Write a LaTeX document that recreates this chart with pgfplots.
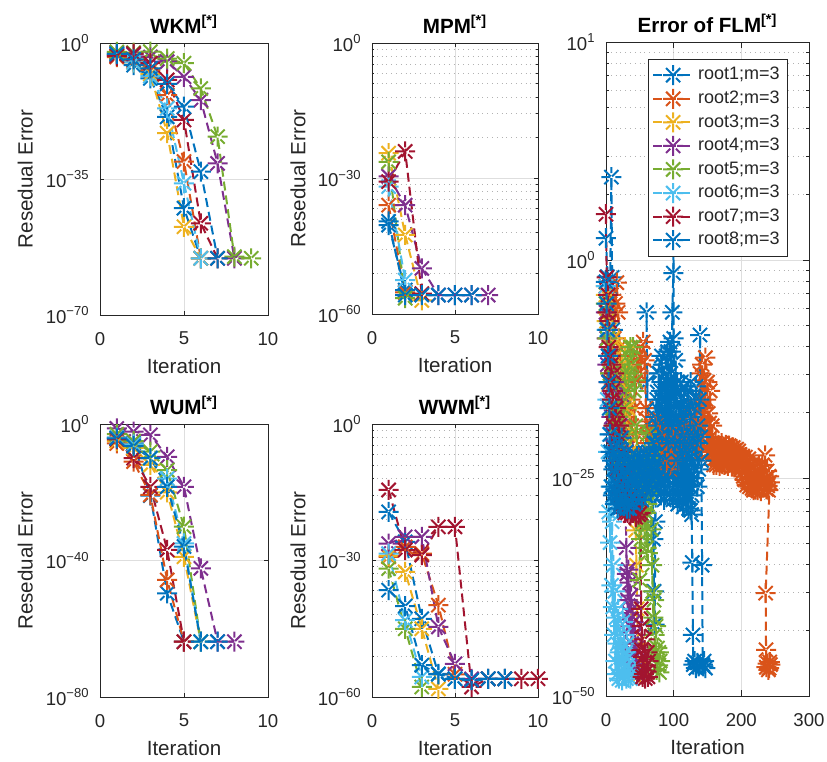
\documentclass[border=0pt]{standalone}
\usepackage{fontspec}
\setmainfont{Liberation Sans}
\usepackage{pgfplots}
\pgfplotsset{compat=1.18}

\definecolor{c1}{HTML}{0072BD}
\definecolor{c2}{HTML}{D95319}
\definecolor{c3}{HTML}{EDB120}
\definecolor{c4}{HTML}{7E2F8E}
\definecolor{c5}{HTML}{77AC30}
\definecolor{c6}{HTML}{4DBEEE}
\definecolor{c7}{HTML}{A2142F}
\definecolor{axc}{HTML}{262626}

% MATLAB-like 8-arm asterisk
\pgfdeclareplotmark{mstar}{%
  \pgfpathmoveto{\pgfqpoint{-\pgfplotmarksize}{0pt}}%
  \pgfpathlineto{\pgfqpoint{\pgfplotmarksize}{0pt}}%
  \pgfpathmoveto{\pgfqpoint{0pt}{-\pgfplotmarksize}}%
  \pgfpathlineto{\pgfqpoint{0pt}{\pgfplotmarksize}}%
  \pgfpathmoveto{\pgfqpointpolar{45}{\pgfplotmarksize}}%
  \pgfpathlineto{\pgfqpointpolar{225}{\pgfplotmarksize}}%
  \pgfpathmoveto{\pgfqpointpolar{135}{\pgfplotmarksize}}%
  \pgfpathlineto{\pgfqpointpolar{315}{\pgfplotmarksize}}%
  \pgfusepathqstroke}

\pgfplotscreateplotcyclelist{mlist}{{c1},{c2},{c3},{c4},{c5},{c6},{c7},{c1}}

\pgfplotsset{
  mstyle/.style={
    scale only axis, clip=false,
    axis line style={draw=axc, line width=0.4pt},
    tick style={draw=axc, line width=0.4pt},
    tick align=inside,
    major tick length=2pt, minor tick length=1.2pt,
    ticklabel style={font=\fontsize{9.3}{11}\selectfont, text=axc},
    xticklabel style={yshift=-5pt},
    yticklabel style={xshift=-1.7pt},
    xlabel={Iteration},
    xlabel style={font=\fontsize{10.3}{12}\selectfont, text=axc,
      at={(axis description cs:0.5,0)}, anchor=center, yshift=-25.5pt},
    ylabel style={font=\fontsize{10.3}{12}\selectfont, text=axc,
      at={(axis description cs:-0.445,0.5)}, anchor=center},
    title style={font=\bfseries\fontsize{10.3}{12}\selectfont,
      at={(axis description cs:0.5,1)}, anchor=base, yshift=-1pt},
    grid=major,
    major grid style={draw=black!13, line width=0.4pt},
    minor grid style={draw=black!30, line width=0.4pt, dotted},
    xmin=0, xmax=10, xtick={0,5,10}, xticklabels={0,5,10},
    cycle list name=mlist,
    every axis plot/.append style={line width=1pt,
      dash pattern=on 4.5pt off 2.5pt, mark=mstar, mark size=5pt},
    every mark/.append style={solid, line width=1.3pt},
  },
}

\begin{document}
\begin{tikzpicture}
\useasboundingbox (0,0) rectangle (413.5pt,-381pt);

% ---------------- WKM ----------------
\begin{axis}[mstyle, at={(50pt,-157.5pt)}, anchor=south west,
  width=84pt, height=136pt,
  title={WKM\textsuperscript{[*]}}, ylabel={Resedual Error},
  ymin=-70, ymax=0, ytick={-70,-35,0},
  yticklabels={10\textsuperscript{−70},10\textsuperscript{−35},10\textsuperscript{0}}]
\addplot coordinates {(1,-3)(2,-5.7)(3,-9.1)(4,-19)(5,-42.5)(6,-55.4)};
\addplot coordinates {(1,-3.6)(2,-4.5)(3,-7)(4,-13.4)(5,-30.5)(6,-55.4)};
\addplot coordinates {(1,-3.2)(2,-5)(3,-8)(4,-23.2)(5,-47.3)(6,-55.4)};
\addplot coordinates {(1,-2.5)(2,-3)(3,-3.6)(4,-4.8)(5,-8.7)(6,-14.7)(7,-31)(8,-55.4)};
\addplot coordinates {(1,-2.3)(2,-2.5)(3,-2.2)(4,-4)(5,-5.2)(6,-11.7)(7,-24.1)(8,-55)(9,-55.4)};
\addplot coordinates {(1,-3)(2,-5)(3,-8.5)(4,-16.8)(5,-36.1)(6,-55.4)};
\addplot coordinates {(1,-3.3)(2,-2.7)(3,-5.2)(4,-9.5)(5,-19.8)(6,-46.4)(7,-55.4)};
\addplot coordinates {(1,-2.8)(2,-4.2)(3,-6.5)(4,-10.5)(5,-16.4)(6,-33.1)(7,-55.4)};
\end{axis}

% ---------------- MPM ----------------
\begin{axis}[mstyle, at={(186pt,-157pt)}, anchor=south west,
  width=83pt, height=135.5pt,
  title={MPM\textsuperscript{[*]}}, ylabel={Resedual Error},
  ymin=-60, ymax=0, ytick={-60,-30,0},
  yticklabels={10\textsuperscript{−60},10\textsuperscript{−30},10\textsuperscript{0}},
  minor ytick={-50.97,-45.69,-41.94,-39.03,-36.66,-34.65,-32.91,-31.37,
               -20.97,-15.69,-11.94,-9.03,-6.66,-4.65,-2.91,-1.37},
  grid=both]
\addplot coordinates {(1,-40.3)(2,-54.7)};
\addplot coordinates {(1,-35.9)(2,-55.2)};
\addplot coordinates {(1,-24.4)(2,-42.5)(3,-57)};
\addplot coordinates {(1,-29.5)(2,-35.9)(3,-49.9)(4,-55.8)(5,-55.8)(6,-55.8)(7,-55.8)};
\addplot coordinates {(1,-26.3)(2,-56.5)};
\addplot coordinates {(1,-31.8)(2,-52.5)};
\addplot coordinates {(1,-30.7)(2,-24)(3,-55.5)};
\addplot coordinates {(1,-39.5)(2,-55.8)(3,-55.8)(4,-55.8)(5,-55.8)(6,-55.8)};
\end{axis}

% ---------------- WUM ----------------
\begin{axis}[mstyle, at={(50pt,-348.5pt)}, anchor=south west,
  width=84pt, height=136.5pt,
  title={WUM\textsuperscript{[*]}}, ylabel={Resedual Error},
  ymin=-80, ymax=0, ytick={-80,-40,0},
  yticklabels={10\textsuperscript{−80},10\textsuperscript{−40},10\textsuperscript{0}}]
\addplot coordinates {(1,-4)(2,-5.7)(3,-21)(4,-49.6)(5,-63.8)};
\addplot coordinates {(1,-5.7)(2,-11)(3,-20.8)(4,-45.7)(5,-63.8)};
\addplot coordinates {(1,-5)(2,-7)(3,-12)(4,-20)(5,-38.9)(6,-63.8)};
\addplot coordinates {(1,-1.3)(2,-2.2)(3,-3.2)(4,-9.6)(5,-18.4)(6,-42.3)(7,-63.8)(8,-63.8)};
\addplot coordinates {(1,-3)(2,-5)(3,-8.1)(4,-13.5)(5,-30.1)(6,-63.8)};
\addplot coordinates {(1,-4)(2,-6)(3,-10)(4,-16)(5,-35)(6,-63.8)};
\addplot coordinates {(1,-4.5)(2,-10)(3,-18.4)(4,-36.9)(5,-63.8)};
\addplot coordinates {(1,-4.2)(2,-6.5)(3,-10)(4,-18.4)(5,-35.9)(6,-63.8)(7,-63.8)};
\end{axis}

% ---------------- WWM ----------------
\begin{axis}[mstyle, at={(186pt,-348.5pt)}, anchor=south west,
  width=83pt, height=136.5pt,
  title={WWM\textsuperscript{[*]}}, ylabel={Resedual Error},
  ymin=-60, ymax=0, ytick={-60,-30,0},
  yticklabels={10\textsuperscript{−60},10\textsuperscript{−30},10\textsuperscript{0}},
  minor ytick={-50.97,-45.69,-41.94,-39.03,-36.66,-34.65,-32.91,-31.37,
               -20.97,-15.69,-11.94,-9.03,-6.66,-4.65,-2.91,-1.37},
  grid=both]
\addplot coordinates {(1,-19.3)(2,-25.9)(3,-42.8)(4,-54.9)(5,-56)(6,-56.3)(7,-56)(8,-56)};
\addplot coordinates {(1,-29.2)(2,-27)(3,-28.5)(4,-39.8)(5,-55)};
\addplot coordinates {(1,-29)(2,-32.5)(3,-45)(4,-58.2)};
\addplot coordinates {(1,-26.3)(2,-24.8)(3,-24.8)(4,-44.6)(5,-52.7)(6,-56)};
\addplot coordinates {(1,-31.8)(2,-45)(3,-57.8)};
\addplot coordinates {(1,-28.5)(2,-43.1)(3,-55.6)};
\addplot coordinates {(1,-14.5)(2,-27.7)(3,-28.8)(4,-22.6)(5,-22.6)(6,-57.8)(7,-56)(8,-56)(9,-56)(10,-56)};
\addplot coordinates {(1,-36.5)(2,-40)(3,-53)(4,-55)(5,-56)(6,-56.3)(7,-56)(8,-56)};
\end{axis}

% ---------------- FLM ----------------
% y values are the exponents shown on the axis; the axis stretches
% 10^0..10^1 as one decade and 10^-25 per decade below 10^0
\begin{axis}[mstyle, at={(303pt,-348pt)}, anchor=south west,
  width=101.5pt, height=327pt,
  title={Error of FLM\textsuperscript{[*]}},
  major tick length=3pt, minor tick length=1.5pt,
  xmin=0, xmax=300, xtick={0,100,200,300}, xticklabels={0,100,200,300},
  ymin=-2, ymax=1, ytick={-2,-1,0,1},
  yticklabels={10\textsuperscript{−50},10\textsuperscript{−25},10\textsuperscript{0},10\textsuperscript{1}},
  minor ytick={-1.69897,-1.52288,-1.39794,-1.30103,-1.22185,-1.15490,-1.09691,-1.04576,
               -0.69897,-0.52288,-0.39794,-0.30103,-0.22185,-0.15490,-0.09691,-0.04576,
               0.30103,0.47712,0.60206,0.69897,0.77815,0.84510,0.90309,0.95424},
  grid=both,
  y filter/.expression={y>0 ? y : y/25},
  legend cell align=left,
  legend image code/.code={\draw[mark repeat=2,mark phase=2,#1]
    plot coordinates {(0pt,0pt) (10pt,0pt) (20pt,0pt)};},
  legend style={at={(0.897,0.974)}, anchor=north east, draw=axc,
    line width=0.4pt, fill=white, text=axc,
    font=\fontsize{9}{10}\selectfont, row sep=0pt,
    inner xsep=2pt, inner ysep=2pt}]
% root1
\addplot coordinates {(0,0.10)(2,-1.9)(4,-5)(6,-3)(8,0.38)(9,-2)(10,-8)(11,-14)(12,-19)
(13,-23)(14,-26)(15,-28)(16,-22.5)(17,-24.5)(18,-27)(19,-23.5)(20,-28.5)(21,-25)(22,-22)
(23,-26.5)(24,-28)(25,-24)(26,-27)(27,-22.5)(28,-25.5)(29,-28.5)(30,-23.5)(31,-26)(32,-27.5)
(33,-24)(34,-28)(35,-22.5)(36,-25)(37,-27)(38,-23)(39,-28.3)(40,-25.5)(41,-22.5)(42,-26.5)
(43,-27.8)(44,-24)(45,-26)(46,-23)(47,-27)(48,-25)(49,-23.5)(50,-27.3)(51,-24.5)(52,-22.5)
(53,-26)(54,-23.5)(55,-27)(56,-24)(57,-22)(58,-25.5)(59,-23)(60,-6)(61,-14)(62,-22.5)(63,-26)
(64,-23.5)(65,-25.5)(66,-22.5)(67,-26.5)(68,-24)(69,-27)(70,-32)(71,-38)(72,-41.8)(73,-30)
(74,-24)(75,-17)(76,-22)(77,-26)(78,-19)(79,-13)(80,-21)(81,-27)(82,-16)(83,-24)(84,-12)
(85,-20)(86,-27.5)(87,-15)(88,-23)(89,-11)(90,-19)(91,-26)(92,-14)(93,-22)(94,-27)(95,-17)
(96,-10.5)(97,-24)(98,-20)(99,-27.5)(100,-15)(101,-22)(102,-26)(103,-11.5)(104,-19)(105,-25)
(106,-28)(107,-16)(108,-23)(109,-20)(110,-27)(111,-14)(112,-25)(113,-21)(114,-28.3)(115,-17)
(116,-24)(117,-26.5)(118,-19)(119,-28)(120,-22)(121,-25)(122,-28.5)(123,-20)(124,-26)
(125,-28.7)(126.6,-29.2)(127.5,-34.7)(128.5,-43)(129,-46.4)(131,-46)(133,-46.8)(135,-46.2)(137,-46.6)};
\addlegendentry{root1;m=3}
% root2
\addplot coordinates {(0,-3)(2,-6)(4,-8)(6,-5)(8,-4)(10,-6)(12,-9)(14,-5)(16,-2.6)(18,-6)
(20,-10)(22,-14)(24,-11)(26,-17)(28,-15)(30,-18)(32,-13)(34,-20)(36,-16)(38,-19)(40,-21)
(42,-17)(44,-14)(46,-11)(48,-13)(50,-10)(52,-12)(55,-9.4)(57,-11.5)(59,-17)(61,-20)(63,-18.5)
(65,-21)(67,-19)(69,-21.5)(71,-18.6)(73,-20.5)(75,-19)(77,-21.6)(80,-20)(83,-22)(86,-21)
(89,-23)(92,-22)(95,-24)(98,-23)(101,-21)(104,-20)(107,-22)(110,-21)(113,-20)(116,-22)
(119,-19)(122,-21)(125,-18)(128,-20)(131,-17)(134,-19)(137,-16)(139,-13)(140,-19)(141,-22)
(142,-12)(143,-17)(144,-21)(145,-13.8)(146,-19)(147,-11.2)(148,-16)(149,-21.5)(150,-14)
(151,-17.6)(152,-22)(153,-18.7)(154,-15)(155,-20.3)(156,-22.5)(157,-19)(158,-21)(159,-23.5)
(160,-21.3)(161,-22.8)(162,-21)(163,-23.5)(164,-21.8)(165,-23)(166,-21.2)(167,-22.5)
(168,-23.6)(169,-21.5)(170,-22.8)(171,-21)(172,-23.4)(173,-22)(174,-21.4)(175,-23.5)
(176,-22.3)(177,-21.2)(178,-23)(179,-21.8)(180,-23.6)(181,-22)(182,-21.3)(183,-23.2)
(184,-22.4)(185,-21.6)(186,-23.7)(187,-22.2)(188,-21.5)(189,-23)(190,-21.8)(191,-23.6)
(192,-22.5)(193,-21.7)(194,-23.3)(195,-22.6)(196,-21.9)(197,-23.8)(198,-22.3)(199,-24)
(200,-22.8)(201,-24.4)(202,-22.5)(203,-24.8)(204,-23)(205,-25.2)(206,-22.6)(207,-24.5)
(208,-25.8)(209,-23.2)(210,-25.5)(211,-22.8)(212,-26)(213,-24.2)(214,-25.6)(215,-23.5)
(216,-26.2)(217,-24.5)(218,-26.4)(219,-25)(220,-23.8)(221,-26.3)(222,-25.2)(223,-24)
(224,-26.4)(225,-25)(226,-23.6)(227,-26.2)(228,-24.8)(229,-26.5)(230,-25.4)(231,-23.5)
(232,-26)(233,-24.6)(234,-25.8)(235,-22.4)(236,-25)(237,-26.3)(238,-24.2)(239,-25.9)
(240,-26.4)(241,-24.8)(242,-25.5)(236,-38.2)(236.5,-44.7)(237,-46.7)(239,-46.3)(241,-46.8)
(243,-46.4)(240,-47)(242,-46.1)};
\addlegendentry{root2;m=3}
% root3
\addplot coordinates {(0,-4)(1,-7)(2,-9)(3,-6)(4,-11)(5,-8)(6,-13)(7,-10)(8,-15)(9,-12)
(10,-9)(11,-14)(12,-17)(13,-13)(14,-16)(15,-19)(16,-15)(17,-18)(18,-21)(19,-17)(20,-20)
(21,-14)(22,-18)(24,-12)(26,-16)(28,-10)(30,-13)(32,-17)(34,-20)(36,-22)(38,-25)(40,-27)
(42,-29)(44,-31)(45,-35)(46,-40)(47,-44)(48,-47)(50,-47.5)(51,-46.8)};
\addlegendentry{root3;m=3}
% root4
\addplot coordinates {(0,-6)(1,-9)(2,-12)(3,-8)(4,-14)(5,-11)(6,-16)(7,-13)(8,-18)(9,-15)
(10,-20)(11,-17)(12,-14)(13,-19)(14,-22)(15,-16)(16,-20)(17,-24)(18,-18)(19,-21)(20,-26)
(21,-19)(22,-23)(24,-15.5)(26,-21)(28,-25)(29,-28.4)(30,-33)(31,-36)(32,-39)(33,-35.5)
(34,-40.5)(35,-37)(36,-42)(37,-38.5)(38,-44)(39,-40)(40,-45.5)(41,-41.5)(42,-46.5)(43,-43)
(44,-47)(45,-44.5)(46,-47.5)(47,-46)(48,-47.2)};
\addlegendentry{root4;m=3}
% root5
\addplot coordinates {(0,-5)(2,-9)(4,-7)(6,-13)(8,-11)(10,-17)(12,-15)(14,-19)(16,-22)
(18,-18)(20,-20)(22,-24)(24,-21)(26,-17)(28,-13)(30,-15)(32,-11)(34,-13)(36,-10)(38,-12)
(40,-10)(42,-15)(43,-13.8)(44,-19)(45,-24)(46,-20)(47,-27)(48,-23)(49,-26)(50,-36.7)(51,-29)
(52,-32)(53,-27)(54,-30)(55,-25)(56,-28)(57,-31)(58,-26)(59,-29)(60,-33)(61,-28)(62,-33.6)
(63,-24)(64,-19.8)(65,-26)(66,-22)(67,-30.9)(68,-35)(69,-38)(70,-41)(71,-39)(72,-43)
(73,-45)(74,-42)(75,-47)(76,-44.5)(77,-46.5)(78,-45)(79,-47.3)(80,-46)};
\addlegendentry{root5;m=3}
% root6
\addplot coordinates {(0,-3)(1,-8)(2,-16)(3,-22)(4,-28.9)(5,-20)(6,-32.4)(7,-26)(8,-37.3)
(9,-30)(10,-39.8)(11,-35)(12,-43)(13,-38)(14,-46)(15,-41)(16,-47.5)(17,-44)(18,-40)(19,-48)
(20,-45)(21,-42)(22,-47)(23,-44.5)(24,-48.2)(25,-41.5)(26,-46)(27,-43)(28,-47.6)(29,-45)
(30,-48)(31,-44)(32,-46.5)(33,-47.8)(34,-45.5)(35,-47)(36,-48)};
\addlegendentry{root6;m=3}
% root7
\addplot coordinates {(0,0.21)(1,-2)(2,-6)(3,-4)(4,-10)(5,-7)(6,-14)(7,-11)(8,-12)(9,-16)
(10,-15)(11,-19)(12,-13)(13,-18)(14,-22)(15,-17)(16,-21)(17,-24)(18,-20)(19,-19)(20,-23)
(21,-26)(22,-22)(23,-25)(24,-27)(25,-24)(26,-28)(27,-26)(28,-29)(29,-27)(30,-28.5)(31,-26.5)
(32,-29)(33,-27.5)(34,-28.5)(35,-26)(36,-29.3)(37,-27)(38,-28.8)(40,-29)(42,-27.5)(44,-29.5)
(46,-28)(48,-29.2)(50,-27.5)(51,-29)(52,-40)(52.5,-44.7)(53,-42)(54,-47.8)(55,-45.5)(56,-47.5)
(57,-43.5)(58,-48)(59,-46.5)(60,-47.2)(61,-45)(62,-47.8)(63,-46)};
\addlegendentry{root7;m=3}
% root8
\addplot coordinates {(0,-2.5)(1,-5)(2,-8)(3,-11)(4,-14)(5,-17)(6,-20)(7,-22)(8,-26)
(9,-23)(10,-27)(11,-24)(12,-21.5)(13,-28)(14,-25.5)(15,-23)(16,-26.5)(17,-28.5)(18,-24)
(19,-21.6)(20,-26)(21,-28)(22,-23.5)(23,-20.4)(24,-27)(25,-25)(26,-22.5)(27,-28.2)(28,-24)
(29,-26.5)(30,-22)(31,-28.5)(32,-25)(33,-23)(34,-27.5)(35,-28.5)(36,-24)(37,-26)(38,-22.8)
(39,-27)(40,-25)(41,-28)(42,-23.5)(43,-26)(44,-24.5)(45,-27.5)(46,-22.5)(47,-25.5)(48,-27)
(49,-24)(50,-26.5)(51,-23)(52,-25)(53,-27.5)(54,-24)(55,-26)(56,-23)(57,-25)(58,-27)
(59,-24.5)(60,-22.5)(61,-26)(62,-24)(63,-22)(64,-25.5)(65,-23)(66,-26.5)(67,-24.5)(68,-22.5)
(69,-26)(70,-23.5)(71,-21)(72,-25)(73,-18)(74,-21)(75,-16)(76,-25)(77,-19)(78,-13)(79,-22)
(80,-26)(81,-15)(82,-11)(83,-20)(84,-25)(85,-17)(86,-12)(87,-23)(88,-27)(89,-14)(90,-18)
(91,-10.5)(92,-21)(93,-25)(94.6,-9.4)(96,-13)(97,-19)(98,-6)(99.5,-1.5)(99.5,0.45)(100,-9)
(101,-15)(102,-21)(103,-26)(104,-18)(105,-14)(106,-23)(107,-27)(108,-16)(109,-21)(110,-25)
(111,-15)(112,-19)(113,-27.5)(114,-22)(115,-14.5)(116,-20)(117,-26)(118,-17)(119,-23)
(120,-27)(121,-15)(122,-21)(123,-25)(124,-18)(125,-14)(126,-22)(127,-27)(128,-16)(129,-20)
(130,-25)(131,-17)(132,-23)(133,-14.5)(134,-21)(135,-26)(136,-19)(137,-24)(138,-16)
(139,-8.6)(140,-20.3)(141,-23)(142,-35)(143,-46.4)(144,-46.6)(145,-46)(147,-46.8)};
\addlegendentry{root8;m=3}
\end{axis}
\end{tikzpicture}
\end{document}
